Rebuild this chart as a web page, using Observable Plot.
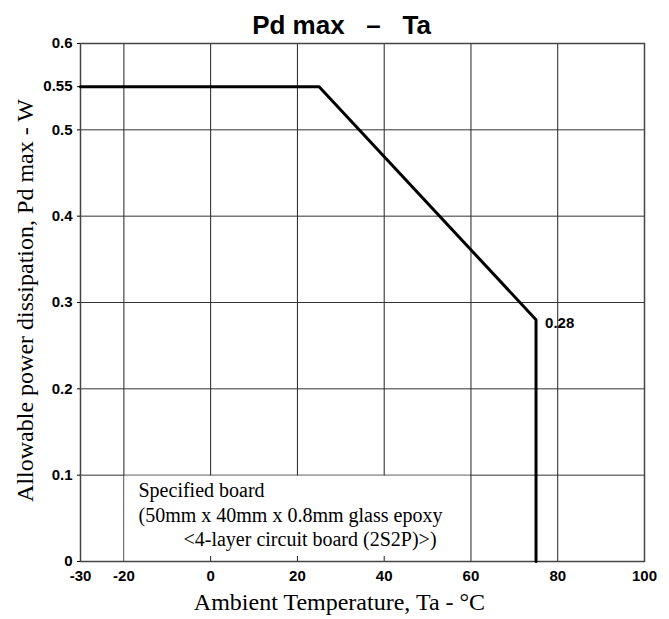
<!DOCTYPE html>
<html>
<head>
<meta charset="utf-8">
<script src="https://cdn.jsdelivr.net/npm/d3@7"></script>
<script src="https://cdn.jsdelivr.net/npm/@observablehq/plot@0.6"></script>
<style>
  html, body { margin: 0; padding: 0; background: #fff; }
  #chart svg { display: block; }
</style>
</head>
<body>
<div id="chart"></div>
<script>
// Data
const ta = [-30, 25, 75, 75];
const pd = [0.55, 0.55, 0.28, 0];
const xTicks = [-30, -20, 0, 20, 40, 60, 80, 100];
const yTicks = [0, 0.1, 0.2, 0.3, 0.4, 0.5, 0.55, 0.6];
const xGrid = [-20, 0, 20, 40, 60, 80];
const yGrid = [0.1, 0.2, 0.3, 0.4, 0.5];
const boxX = [-20, 60];
const boxY = [0, 0.1];
const maskedTicks = [0, 20, 40];
const noteLines = ["Specified board", "(50mm x 40mm x 0.8mm glass epoxy", "<4-layer circuit board (2S2P)>)"];
const peakLabel = {x: 75, y: 0.28, text: "0.28"};

const curve = ta.map((t, i) => ({t, p: pd[i]}));

const W = 669, H = 619, mt = 43, mb = 58, ml = 80, mr = 25;
const serif = "'Liberation Serif', 'Times New Roman', serif";
const sans = "'Liberation Sans', Arial, sans-serif";

const chart = Plot.plot({
  width: W,
  height: H,
  marginTop: mt,
  marginBottom: mb,
  marginLeft: ml,
  marginRight: mr,
  style: {fontFamily: sans, background: "#fff", overflow: "visible"},
  x: {domain: [-30, 100]},
  y: {domain: [0, 0.6]},
  marks: [
    Plot.ruleX(xGrid, {stroke: "#222", strokeWidth: 1}),
    Plot.ruleY(yGrid, {stroke: "#333", strokeWidth: 1}),
    Plot.rect([{}], {x1: () => boxX[0], x2: () => boxX[1], y1: () => boxY[0], y2: () => boxY[1], fill: "#fff", insetLeft: 1, insetRight: 0.5, insetTop: 1}),
    Plot.tickX(maskedTicks, {x: d => d, stroke: "#222", insetTop: H - mt - mb - 5}),
    Plot.frame({stroke: "#444", strokeWidth: 1.5}),
    Plot.line(curve, {x: "t", y: "p", stroke: "#000", strokeWidth: 3, strokeLinejoin: "miter"}),
    Plot.text([peakLabel], {x: "x", y: "y", text: "text", textAnchor: "start", dx: 9, dy: 3, fontSize: 15, fontWeight: "bold", fill: "#000"}),
    Plot.axisX({ticks: xTicks, tickSize: 0, tickPadding: 9, fontSize: 15, fontWeight: "bold", label: null, tickFormat: d => String(d), fill: "#000"}),
    Plot.axisY({ticks: yTicks, tickSize: 3, tickPadding: 5, fontSize: 15, fontWeight: "bold", label: null, tickFormat: d => String(d), fill: "#000"}),
    Plot.text(["Pd max   \u2013   Ta"], {frameAnchor: "top", dy: -28, dx: -21, fontSize: 26, fontWeight: "bold", fontFamily: sans, fill: "#000"}),
    Plot.text(["Ambient Temperature, Ta - \u00b0C"], {frameAnchor: "bottom", dy: 48, dx: -23, fontSize: 24, fontFamily: serif, fill: "#000"}),
    Plot.text(["Allowable power dissipation, Pd max - W"], {frameAnchor: "left", textAnchor: "middle", dx: -55, dy: -2, rotate: -90, fontSize: 24, fontFamily: serif, fill: "#000"}),
    Plot.text([noteLines[0]], {frameAnchor: "bottom-left", dx: 58, dy: -65, textAnchor: "start", fontSize: 20, fontFamily: serif, fill: "#000"}),
    Plot.text([noteLines[1]], {frameAnchor: "bottom-left", dx: 58, dy: -40, textAnchor: "start", fontSize: 20, fontFamily: serif, fill: "#000"}),
    Plot.text([noteLines[2]], {frameAnchor: "bottom-left", dx: 103, dy: -16, textAnchor: "start", fontSize: 20, fontFamily: serif, fill: "#000"})
  ]
});
document.getElementById("chart").appendChild(chart);
</script>
</body>
</html>
